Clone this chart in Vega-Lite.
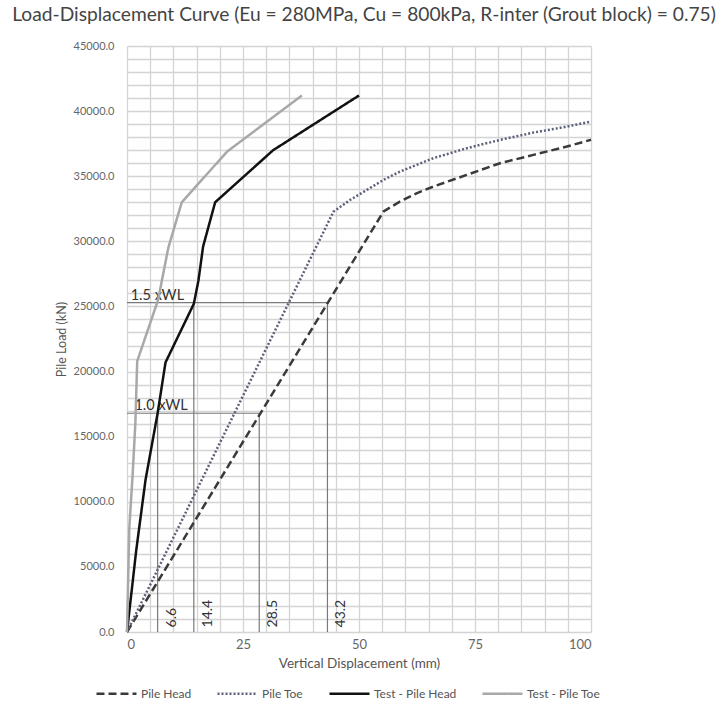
{
  "$schema": "https://vega.github.io/schema/vega-lite/v6.json",
  "autosize": {"type": "none"},
  "width": 464,
  "height": 586,
  "padding": {"left": 127, "top": 46, "right": 137, "bottom": 70},
  "background": "white",
  "title": {
    "text": "Load-Displacement Curve (Eu = 280MPa, Cu = 800kPa, R-inter (Grout block) = 0.75)",
    "font": "Lato",
    "fontSize": 19.2,
    "fontWeight": "normal",
    "color": "#444444",
    "anchor": "middle",
    "dx": 5,
    "offset": 15
  },
  "config": {
    "view": {"stroke": null},
    "font": "Lato",
    "axis": {
      "labelFont": "Lato",
      "titleFont": "Lato",
      "labelColor": "#666666",
      "titleColor": "#555555",
      "titleFontWeight": "normal",
      "gridColor": "#d4d4d4",
      "gridWidth": 1.3,
      "ticks": false,
      "domain": false,
      "labelOverlap": false
    }
  },
  "datasets": {
    "curves": [
      {"series": "Pile Head", "i": 0, "x": 0, "y": 0},
      {"series": "Pile Head", "i": 1, "x": 55.3, "y": 32300},
      {"series": "Pile Head", "i": 2, "x": 58.8, "y": 33050},
      {"series": "Pile Head", "i": 3, "x": 62.4, "y": 33690},
      {"series": "Pile Head", "i": 4, "x": 66, "y": 34200},
      {"series": "Pile Head", "i": 5, "x": 73.2, "y": 35100},
      {"series": "Pile Head", "i": 6, "x": 80.4, "y": 36000},
      {"series": "Pile Head", "i": 7, "x": 87.6, "y": 36640},
      {"series": "Pile Head", "i": 8, "x": 94.8, "y": 37280},
      {"series": "Pile Head", "i": 9, "x": 100, "y": 37800},
      {"series": "Pile Toe", "i": 0, "x": 0, "y": 0},
      {"series": "Pile Toe", "i": 1, "x": 44.5, "y": 32280},
      {"series": "Pile Toe", "i": 2, "x": 48.1, "y": 33180},
      {"series": "Pile Toe", "i": 3, "x": 51.7, "y": 33950},
      {"series": "Pile Toe", "i": 4, "x": 55.3, "y": 34720},
      {"series": "Pile Toe", "i": 5, "x": 58.8, "y": 35350},
      {"series": "Pile Toe", "i": 6, "x": 66, "y": 36380},
      {"series": "Pile Toe", "i": 7, "x": 73.2, "y": 37150},
      {"series": "Pile Toe", "i": 8, "x": 80.4, "y": 37790},
      {"series": "Pile Toe", "i": 9, "x": 87.6, "y": 38350},
      {"series": "Pile Toe", "i": 10, "x": 94.8, "y": 38810},
      {"series": "Pile Toe", "i": 11, "x": 100, "y": 39200},
      {"series": "Test - Pile Head", "i": 0, "x": 0, "y": 0},
      {"series": "Test - Pile Head", "i": 1, "x": 2, "y": 6300},
      {"series": "Test - Pile Head", "i": 2, "x": 4, "y": 11700},
      {"series": "Test - Pile Head", "i": 3, "x": 6.6, "y": 16800},
      {"series": "Test - Pile Head", "i": 4, "x": 8.3, "y": 20700},
      {"series": "Test - Pile Head", "i": 5, "x": 14.4, "y": 25200},
      {"series": "Test - Pile Head", "i": 6, "x": 15.4, "y": 27000},
      {"series": "Test - Pile Head", "i": 7, "x": 16.4, "y": 29600},
      {"series": "Test - Pile Head", "i": 8, "x": 19, "y": 33000},
      {"series": "Test - Pile Head", "i": 9, "x": 31.5, "y": 37000},
      {"series": "Test - Pile Head", "i": 10, "x": 50, "y": 41200},
      {"series": "Test - Pile Toe", "i": 0, "x": 0, "y": 0},
      {"series": "Test - Pile Toe", "i": 1, "x": 0.5, "y": 8000},
      {"series": "Test - Pile Toe", "i": 2, "x": 1.2, "y": 12000},
      {"series": "Test - Pile Toe", "i": 3, "x": 1.8, "y": 16000},
      {"series": "Test - Pile Toe", "i": 4, "x": 2.2, "y": 20800},
      {"series": "Test - Pile Toe", "i": 5, "x": 6.7, "y": 25500},
      {"series": "Test - Pile Toe", "i": 6, "x": 8.9, "y": 29500},
      {"series": "Test - Pile Toe", "i": 7, "x": 11.8, "y": 33000},
      {"series": "Test - Pile Toe", "i": 8, "x": 21.6, "y": 36900},
      {"series": "Test - Pile Toe", "i": 9, "x": 37.7, "y": 41200}
    ],
    "refs": [
      {"x": 0, "x2": 43.2, "y": 25300, "y2": 25300},
      {"x": 14.4, "x2": 14.4, "y": 0, "y2": 25300},
      {"x": 43.2, "x2": 43.2, "y": 0, "y2": 25300},
      {"x": 0, "x2": 28.5, "y": 16800, "y2": 16800},
      {"x": 6.6, "x2": 6.6, "y": 0, "y2": 16800},
      {"x": 28.5, "x2": 28.5, "y": 0, "y2": 16800}
    ],
    "wl": [
      {"label": "1.5 xWL", "x": 0.8, "y": 25300},
      {"label": "1.0 xWL", "x": 1.6, "y": 16800}
    ],
    "vals": [
      {"label": "6.6", "x": 6.6, "y": 350},
      {"label": "14.4", "x": 14.4, "y": 350},
      {"label": "28.5", "x": 28.5, "y": 350},
      {"label": "43.2", "x": 43.2, "y": 350}
    ]
  },
  "encoding": {
    "x": {
      "field": "x", "type": "quantitative",
      "scale": {"domain": [0, 100], "nice": false},
      "axis": {
        "values": [0,5,10,15,20,25,30,35,40,45,50,55,60,65,70,75,80,85,90,95,100],
        "labelExpr": "datum.value % 25 === 0 ? datum.value : ''",
        "labelFontSize": 13,
        "labelPadding": 6,
        "title": "Vertical Displacement (mm)",
        "titleFontSize": 13.5,
        "titlePadding": 5
      }
    },
    "y": {
      "field": "y", "type": "quantitative",
      "scale": {"domain": [0, 45000], "nice": false},
      "axis": {
        "values": [0,1000,2000,3000,4000,5000,6000,7000,8000,9000,10000,11000,12000,13000,14000,15000,16000,17000,18000,19000,20000,21000,22000,23000,24000,25000,26000,27000,28000,29000,30000,31000,32000,33000,34000,35000,36000,37000,38000,39000,40000,41000,42000,43000,44000,45000],
        "labelExpr": "datum.value % 5000 === 0 ? format(datum.value, '.1f') : ''",
        "labelFontSize": 11,
        "labelPadding": 13,
        "title": "Pile Load (kN)",
        "titleFontSize": 12.5,
        "titlePadding": 5
      }
    }
  },
  "layer": [
    {
      "data": {"name": "refs"},
      "mark": {"type": "rule", "color": "#7a7a7a", "strokeWidth": 1.2},
      "encoding": {
        "x2": {"field": "x2"},
        "y2": {"field": "y2"}
      }
    },
    {
      "data": {"name": "wl"},
      "mark": {"type": "text", "align": "left", "baseline": "bottom", "fontSize": 14.5, "color": "#333333", "dy": 0},
      "encoding": {
        "text": {"field": "label"}
      }
    },
    {
      "data": {"name": "vals"},
      "mark": {"type": "text", "align": "left", "baseline": "middle", "angle": 270, "fontSize": 14, "color": "#333333", "dy": 14},
      "encoding": {
        "text": {"field": "label"}
      }
    },
    {
      "data": {"name": "curves"},
      "mark": {"type": "line", "strokeWidth": 2.5},
      "encoding": {
        "order": {"field": "i"},
        "color": {
          "field": "series", "type": "nominal",
          "scale": {
            "domain": ["Pile Head", "Pile Toe", "Test - Pile Head", "Test - Pile Toe"],
            "range": ["#3a3a3a", "#5c6078", "#111111", "#a8a8a8"]
          },
          "legend": {
            "title": null,
            "orient": "none",
            "direction": "horizontal",
            "legendX": -32,
            "legendY": 626,
            "symbolType": "stroke",
            "symbolSize": 1600,
            "symbolStrokeWidth": 2.5,
            "labelFontSize": 12,
            "labelColor": "#555555",
            "labelFont": "Lato",
            "labelOffset": 3,
            "columnPadding": 20
          }
        },
        "strokeDash": {
          "field": "series", "type": "nominal",
          "scale": {
            "domain": ["Pile Head", "Pile Toe", "Test - Pile Head", "Test - Pile Toe"],
            "range": [[8, 4], [2, 2], [1, 0], [1, 0]]
          },
          "legend": {
            "title": null,
            "orient": "none",
            "direction": "horizontal",
            "legendX": -32,
            "legendY": 626,
            "symbolType": "stroke",
            "symbolSize": 1600,
            "symbolStrokeWidth": 2.5,
            "labelFontSize": 12,
            "labelColor": "#555555",
            "labelFont": "Lato",
            "labelOffset": 3,
            "columnPadding": 20
          }
        }
      }
    }
  ]
}
